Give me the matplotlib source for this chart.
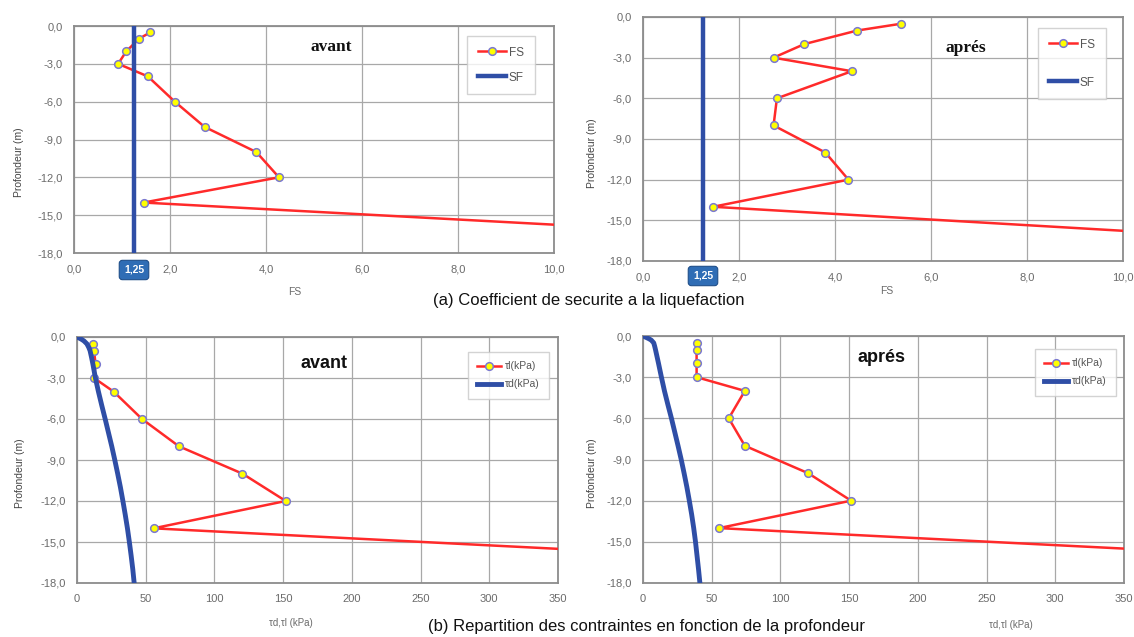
import matplotlib
matplotlib.use("Agg")
import matplotlib.pyplot as plt
from matplotlib.lines import Line2D

plt.rcParams['font.family'] = ['Liberation Sans', 'DejaVu Sans']

# ---------------- data ----------------
depth_pts = [-0.5, -1, -2, -3, -4, -6, -8, -10, -12, -14, -16]

fs_avant = [1.59, 1.36, 1.09, 0.92, 1.54, 2.10, 2.72, 3.80, 4.27, 1.45, 11.2]
fs_apres = [5.37, 4.46, 3.36, 2.72, 4.35, 2.79, 2.72, 3.80, 4.28, 1.46, 11.1]
sf_value = 1.25
sf_depths = [0, -18]

tl_avant = [11.9, 12.4, 13.5, 12.4, 26.7, 47.3, 74.2, 120.4, 151.9, 55.7, 448]
tl_apres = [39.0, 39.0, 39.0, 39.0, 74.1, 62.4, 74.1, 120.2, 151.4, 55.3, 450]

td_depths = [0, -0.1, -0.2, -0.3, -0.5, -0.75, -1, -1.5, -2, -3, -4, -5, -6, -7, -8, -9, -10,
             -11, -12, -13, -14, -15, -16, -17, -18]
td_avant = [0, 2.0, 3.8, 5.2, 7.2, 8.5, 9.5, 10.6, 11.6, 13.4, 15.6, 18.0, 20.5, 22.9, 25.3,
            27.5, 29.6, 31.6, 33.4, 35.1, 36.7, 38.1, 39.4, 40.6, 41.6]
td_apres = [0, 2.2, 4.3, 6.0, 7.8, 8.5, 9.1, 10.2, 11.3, 13.4, 15.6, 18.1, 20.7, 23.1, 25.5,
            27.8, 29.9, 31.9, 33.7, 35.4, 36.9, 38.2, 39.3, 40.4, 41.4]

y_ticks = [0, -3, -6, -9, -12, -15, -18]
y_ticklabels = ['0,0', '-3,0', '-6,0', '-9,0', '-12,0', '-15,0', '-18,0']
fs_ticks = [0, 2, 4, 6, 8, 10]
fs_ticklabels = ['0,0', '2,0', '4,0', '6,0', '8,0', '10,0']
tau_ticks = [0, 50, 100, 150, 200, 250, 300, 350]
tau_ticklabels = ['0', '50', '100', '150', '200', '250', '300', '350']

# ---------------- style ----------------
W, H = 1134, 637
fig = plt.figure(figsize=(W / 100, H / 100), dpi=100)
fig.patch.set_facecolor('white')

RED = '#ff2a2a'
BLUE = '#2f4ea6'
MFC = '#ffff00'
MEC = '#7a78d0'
TICKC = '#6b6b6b'
GRIDC = '#a8a8a8'


def px_axes(left, right, top, bottom):
    return fig.add_axes([left / W, 1 - bottom / H, (right - left) / W, (bottom - top) / H])


def style(ax, xlim, xticks, xlabels):
    ax.set_xlim(*xlim)
    ax.set_ylim(-18, 0)
    ax.set_xticks(xticks)
    ax.set_xticklabels(xlabels)
    ax.set_yticks(y_ticks)
    ax.set_yticklabels(y_ticklabels)
    ax.grid(True, color=GRIDC, lw=0.9)
    ax.set_axisbelow(True)
    for s in ax.spines.values():
        s.set_color('#8c8c8c')
        s.set_linewidth(1.3)
    ax.tick_params(length=0, labelsize=8, labelcolor=TICKC, pad=8)


def text_px(x, y, s, **kw):
    fig.text(x / W, 1 - y / H, s, **kw)


def legend(ax, handles, labels, x0, y0, spacing, fsize, tpad, hlen):
    lg = ax.legend(handles, labels, loc='upper left', bbox_to_anchor=(x0, y0),
                   frameon=True, fancybox=False, shadow=False, fontsize=fsize,
                   handlelength=hlen, handletextpad=tpad, labelspacing=spacing,
                   borderpad=0.9, borderaxespad=0)
    lg.get_frame().set_edgecolor('#c8c8c8')
    lg.get_frame().set_linewidth(1.0)
    for t in lg.get_texts():
        t.set_color('#555555')
    return lg


def sf_box(x, y):
    text_px(x, y, '1,25', ha='center', va='center', fontsize=7.5, color='white',
            fontweight='bold',
            bbox=dict(boxstyle='round,pad=0.45,rounding_size=0.3', fc='#2f6db5', ec='#1f4f8a', lw=0.8))


mk = dict(marker='o', ms=5.5, mfc=MFC, mec=MEC, mew=1.1)
fs_handle = Line2D([], [], color=RED, lw=1.8, **mk)
sf_handle = Line2D([], [], color=BLUE, lw=3.2)

# ---------- (a) avant ----------
ax1 = px_axes(74, 554, 26, 253)
style(ax1, (0, 10), fs_ticks, fs_ticklabels)
ax1.plot(fs_avant, depth_pts, color=RED, lw=1.8, zorder=3, **mk)
ax1.plot([sf_value, sf_value], sf_depths, color=BLUE, lw=3.2, zorder=4)
legend(ax1, [fs_handle, sf_handle], ['FS', 'SF'], (467 - 74) / 480, (253 - 36) / 227,
       1.1, 8.5, 0.25, 2.4)
text_px(331, 47, 'avant', ha='center', va='center', fontsize=12.5, fontweight='bold',
        family=['Liberation Serif', 'DejaVu Serif'], color='#111111')
sf_box(134, 270)
text_px(295, 292, 'FS', ha='center', va='center', fontsize=7.5, color=TICKC)
text_px(19, 162, 'Profondeur (m)', ha='center', va='center', rotation=90, fontsize=7.5, color='#444444')

# ---------- (a) apres ----------
ax2 = px_axes(643, 1123, 17, 261)
style(ax2, (0, 10), fs_ticks, fs_ticklabels)
ax2.plot(fs_apres, depth_pts, color=RED, lw=1.8, zorder=3, **mk)
ax2.plot([sf_value, sf_value], sf_depths, color=BLUE, lw=3.2, zorder=4)
legend(ax2, [fs_handle, sf_handle], ['FS', 'SF'], (1038 - 643) / 480, (261 - 28) / 244,
       2.2, 8.5, 0.25, 2.4)
text_px(966, 48, 'aprés', ha='center', va='center', fontsize=12.5, fontweight='bold',
        family=['Liberation Serif', 'DejaVu Serif'], color='#111111')
sf_box(703, 276)
text_px(887, 291, 'FS', ha='center', va='center', fontsize=7.5, color=TICKC)
text_px(592, 153, 'Profondeur (m)', ha='center', va='center', rotation=90, fontsize=7.5, color='#444444')

text_px(589, 300, '(a) Coefficient de securite a la liquefaction', ha='center', va='center',
        fontsize=12, color='#111111')

tl_handle = Line2D([], [], color=RED, lw=1.8, **mk)
td_handle = Line2D([], [], color=BLUE, lw=3.5)

# ---------- (b) avant ----------
ax3 = px_axes(77, 558, 337, 583)
style(ax3, (0, 350), tau_ticks, tau_ticklabels)
ax3.plot(tl_avant, depth_pts, color=RED, lw=1.8, zorder=3, **mk)
ax3.plot(td_avant, td_depths, color=BLUE, lw=3.5, zorder=4, solid_capstyle='round',
         solid_joinstyle='round')
legend(ax3, [tl_handle, td_handle], ['τl(kPa)', 'τd(kPa)'], (468 - 77) / 481, (583 - 352) / 246,
       0.75, 7.5, 0.3, 2.3)
text_px(324, 363, 'avant', ha='center', va='center', fontsize=13, fontweight='bold', color='#111111')
text_px(291, 623, 'τd,τl (kPa)', ha='center', va='center', fontsize=7, color=TICKC)
text_px(20, 473, 'Profondeur (m)', ha='center', va='center', rotation=90, fontsize=7.5, color='#444444')

# ---------- (b) apres ----------
ax4 = px_axes(643, 1124, 336, 583)
style(ax4, (0, 350), tau_ticks, tau_ticklabels)
ax4.plot(tl_apres, depth_pts, color=RED, lw=1.8, zorder=3, **mk)
ax4.plot(td_apres, td_depths, color=BLUE, lw=3.5, zorder=4, solid_capstyle='round',
         solid_joinstyle='round')
legend(ax4, [tl_handle, td_handle], ['τl(kPa)', 'τd(kPa)'], (1035 - 643) / 481, (583 - 349) / 247,
       0.75, 7.5, 0.3, 2.3)
text_px(881, 357, 'aprés', ha='center', va='center', fontsize=13, fontweight='bold', color='#111111')
text_px(1011, 625, 'τd,τl (kPa)', ha='center', va='center', fontsize=7, color=TICKC)
text_px(592, 473, 'Profondeur (m)', ha='center', va='center', rotation=90, fontsize=7.5, color='#444444')

text_px(646, 627, '(b) Repartition des contraintes en fonction de la profondeur', ha='center',
        va='center', fontsize=12, color='#111111')

fig.savefig('out.png', dpi=100, facecolor='white')
